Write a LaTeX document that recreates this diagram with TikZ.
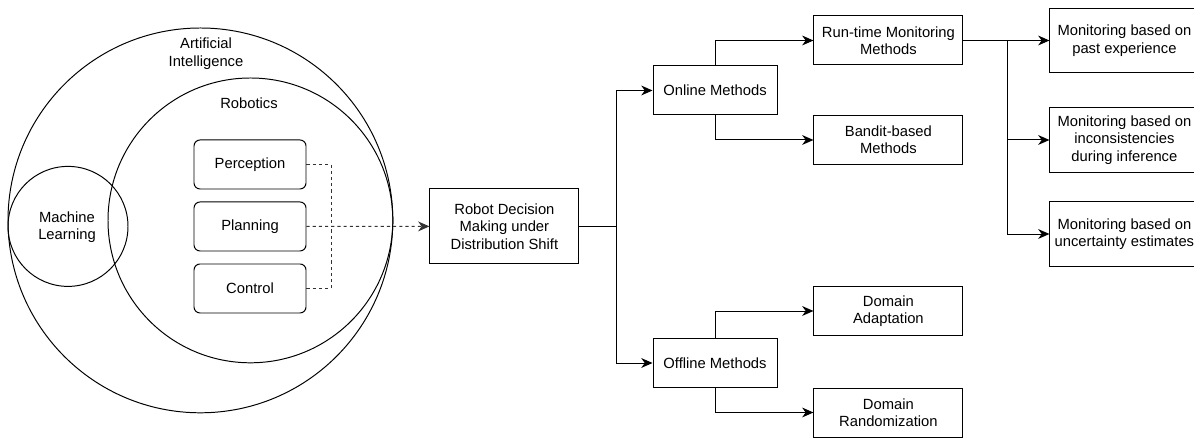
\documentclass[tikz,border=0pt]{standalone}
\usepackage{fontspec}
\setmainfont{Liberation Sans}
\usetikzlibrary{arrows.meta}

\tikzset{
  txt/.style={font=\fontsize{10.5}{12.4}\selectfont, align=center},
  box/.style={txt, draw, line width=0.7pt, minimum width=3.725cm, minimum height=1.225cm, inner sep=1pt},
  rbox/.style={box, rounded corners=0.15cm, minimum width=2.8cm},
  ring/.style={draw, circle, line width=0.7pt, inner sep=0pt},
  arr/.style={-{Stealth[length=8pt,width=7pt,inset=2.5pt]}, line width=0.7pt},
  dashline/.style={line width=0.7pt, dash pattern=on 2.2pt off 2.2pt, draw=black!80}
}

\begin{document}
\begin{tikzpicture}

\useasboundingbox (0,0) rectangle (29.85,10.95);

% circles on the left
\node[ring, minimum size=9.62cm] (ai) at (5.01,5.44) {};
\node[ring, minimum size=7.12cm] (robo) at (6.26,5.44) {};
\node[ring, minimum size=3cm] (ml) at (1.70,5.29) {};
\node[txt] (ailbl) at (5.15,9.61) {Artificial\\Intelligence};
\node[txt] (robolbl) at (6.225,8.375) {Robotics};
\node[txt] (mllbl) at (1.675,5.275) {Machine\\Learning};

\node[rbox] (perc) at (6.25,6.8375) {Perception};
\node[rbox] (plan) at (6.25,5.2875) {Planning};
\node[rbox] (ctrl) at (6.25,3.7375) {Control};

% the tree
\node[box, minimum height=1.875cm] (rdm) at (12.61,5.29) {Robot Decision\\Making under\\Distribution Shift};
\node[box, minimum width=3.1cm] (online) at (17.875,8.6875) {Online Methods};
\node[box, minimum width=3.1cm] (offline) at (17.875,1.875) {Offline Methods};
\node[box] (runtime) at (22.21,9.9375) {Run-time Monitoring\\Methods};
\node[box] (bandit) at (22.21,7.45) {Bandit-based\\Methods};
\node[box] (adapt) at (22.21,3.175) {Domain\\Adaptation};
\node[box] (rand) at (22.21,0.6375) {Domain\\Randomization};
\node[box, minimum height=1.6cm] (past) at (28.11,9.9375) {Monitoring based on\\past experience};
\node[box, minimum height=1.6cm] (incons) at (28.11,7.45) {Monitoring based on\\inconsistencies\\during inference};
\node[box, minimum height=1.6cm] (uncert) at (28.11,5.1) {Monitoring based on\\uncertainty estimates};

% dashed links
\coordinate (bus) at (8.275,5.2875);
\draw[dashline] (perc.east) -| (bus);
\draw[dashline] (ctrl.east) -| (bus);
\draw[dashline, arr] (plan.east) -- (rdm.west);

% arrows
\coordinate (split) at (15.4,5.29);
\draw[line width=0.7pt] (rdm.east) -- (split);
\draw[arr] (split) |- (online.west);
\draw[arr] (split) |- (offline.west);
\draw[arr] (online.north) |- (runtime.west);
\draw[arr] (online.south) |- (bandit.west);
\draw[arr] (offline.north) |- (adapt.west);
\draw[arr] (offline.south) |- (rand.west);

\coordinate (msplit) at (25.175,9.9375);
\draw[arr] (runtime.east) -- (past.west);
\draw[arr] (msplit) |- (incons.west);
\draw[arr] (msplit) |- (uncert.west);

\end{tikzpicture}
\end{document}
